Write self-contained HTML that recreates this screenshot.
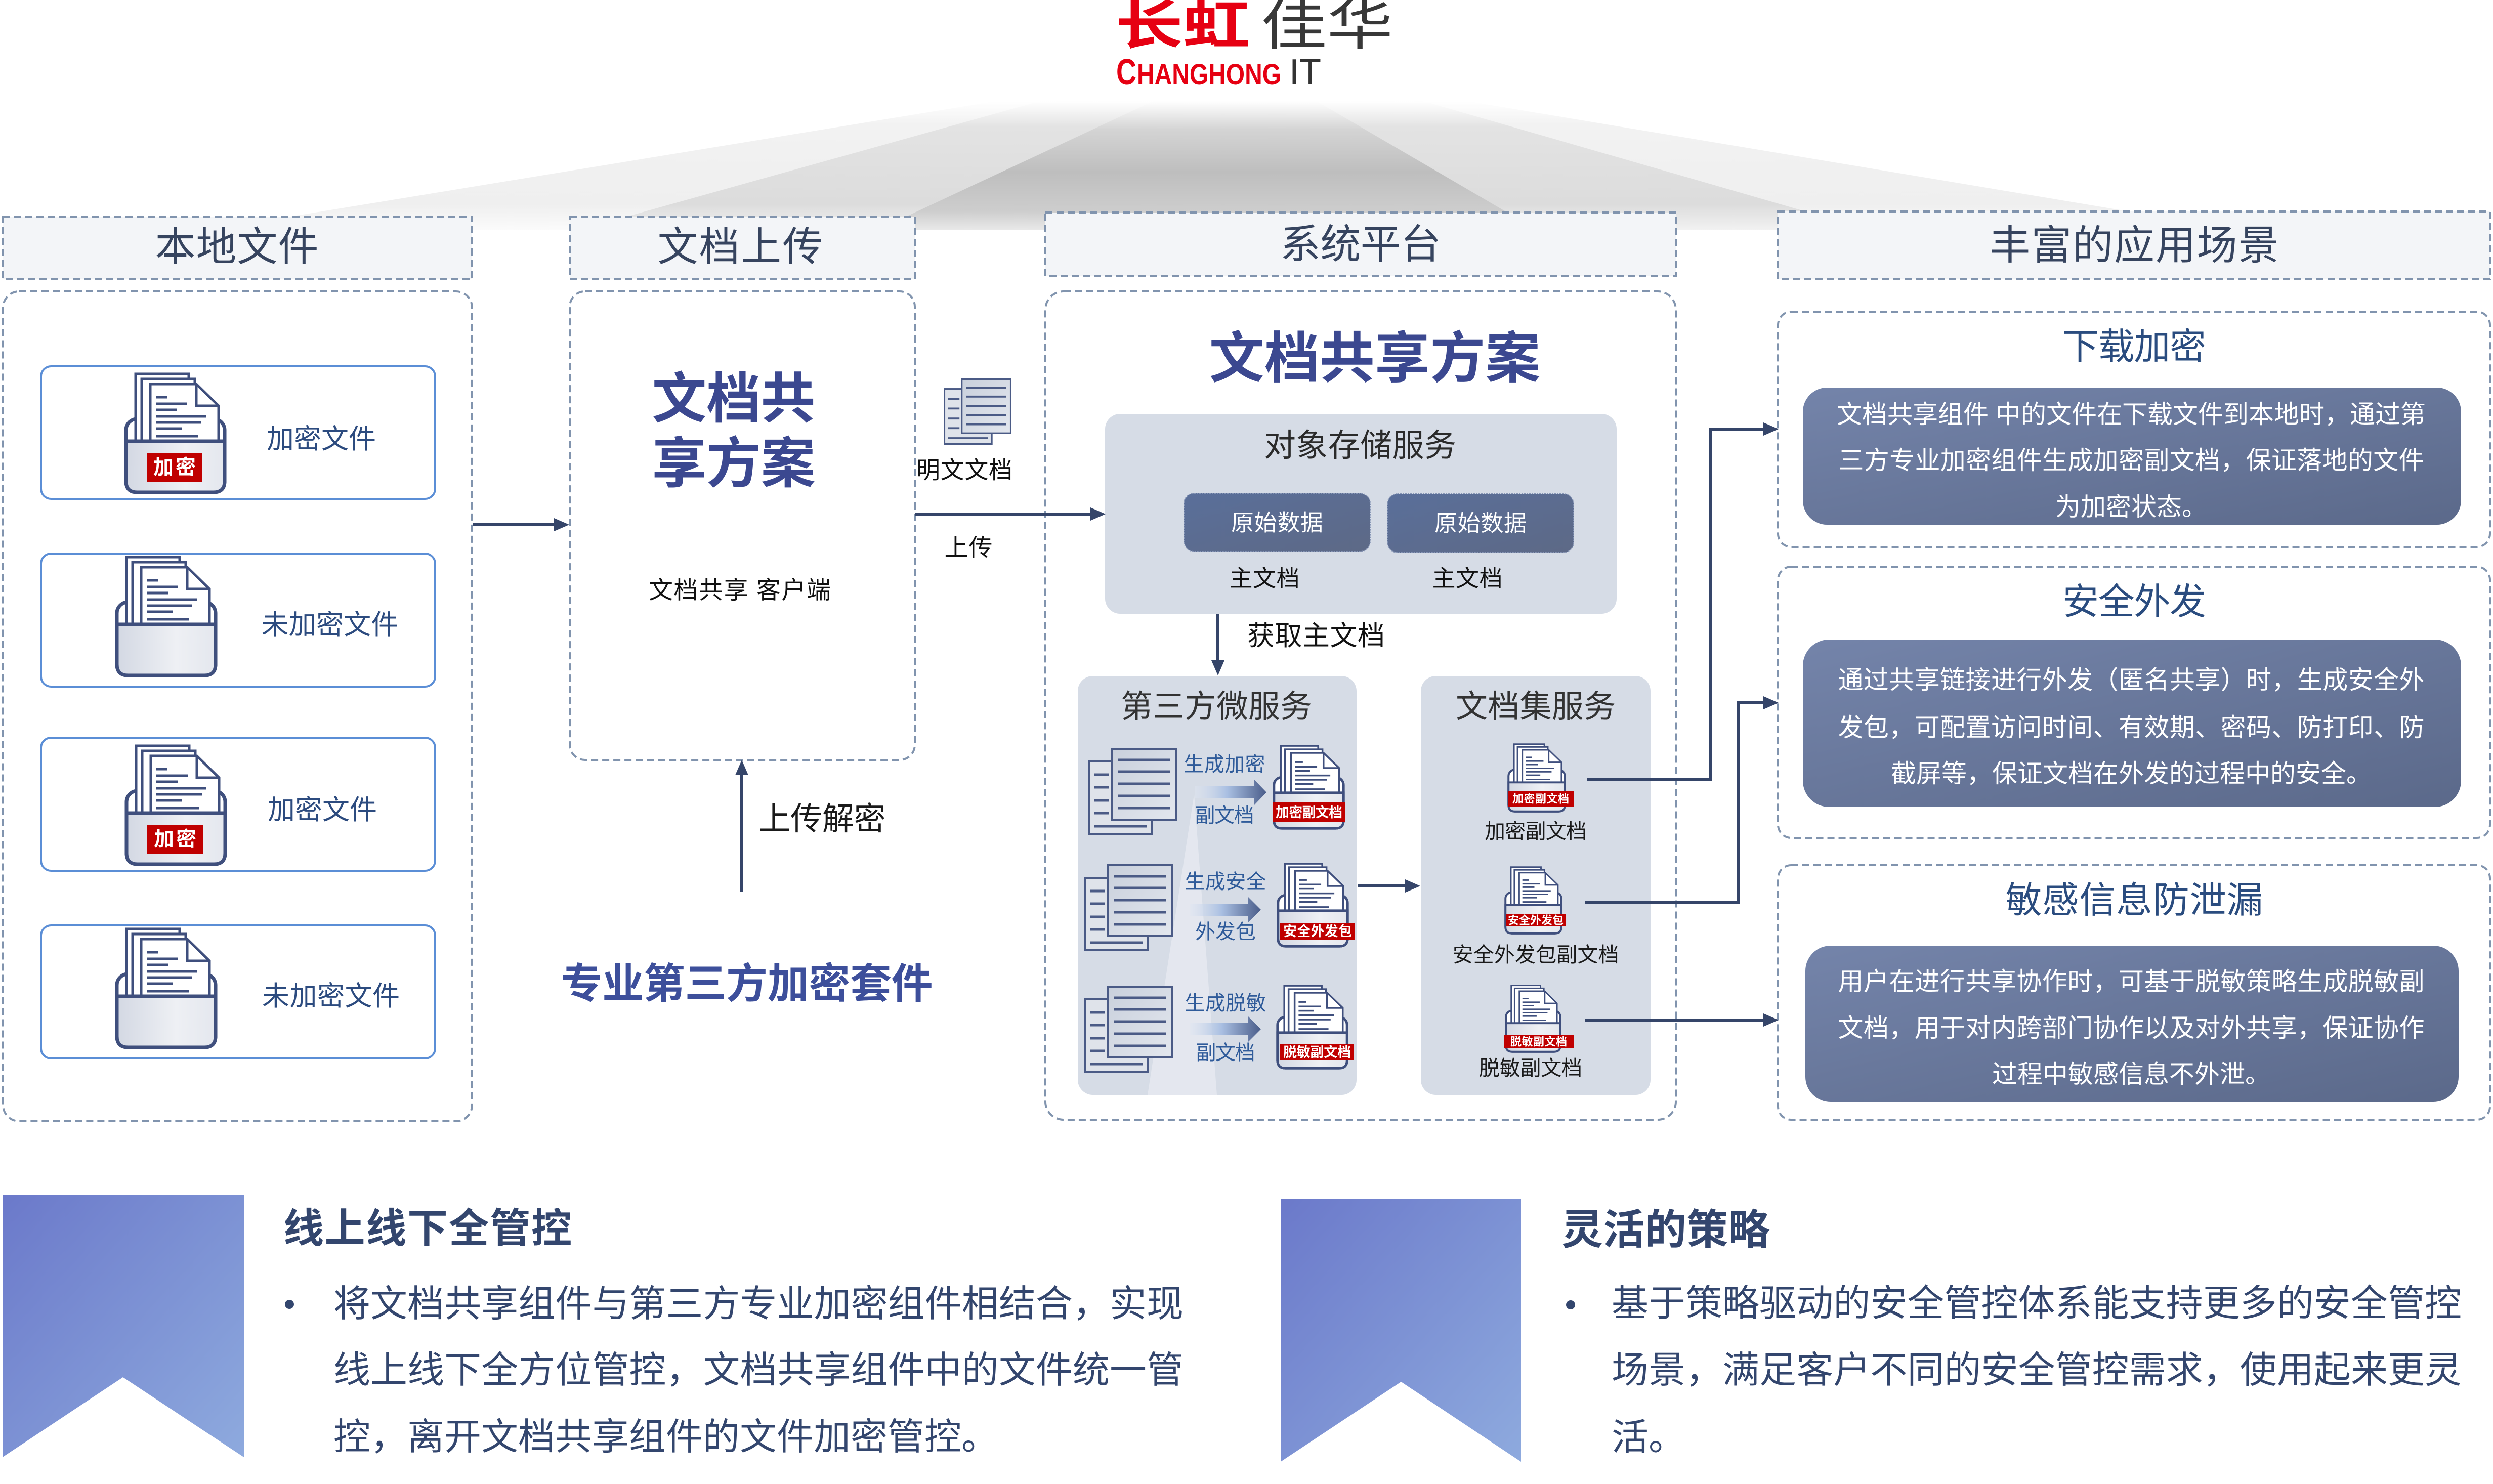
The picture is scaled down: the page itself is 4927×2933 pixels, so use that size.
<!DOCTYPE html>
<html><head><meta charset="utf-8">
<style>
html,body{margin:0;padding:0;background:#fff;}
svg{display:block;}
text{font-family:"Liberation Sans","Noto Sans CJK SC",sans-serif;}
.c{text-anchor:middle;dominant-baseline:central;}
.s{text-anchor:start;dominant-baseline:central;}
</style></head><body>
<svg width="4927" height="2933" viewBox="0 0 4927 2933" xmlns="http://www.w3.org/2000/svg">
<defs>
 <linearGradient id="b1" x1="0" y1="0" x2="0" y2="1"><stop offset="0" stop-color="#ffffff"/><stop offset="0.18" stop-color="#f2f2f2"/><stop offset="0.8" stop-color="#efefef"/><stop offset="1" stop-color="#fbfbfb"/></linearGradient>
 <linearGradient id="b2" x1="0" y1="0" x2="0" y2="1"><stop offset="0" stop-color="#ffffff"/><stop offset="0.2" stop-color="#e3e3e3"/><stop offset="0.8" stop-color="#dcdcdc"/><stop offset="1" stop-color="#f2f2f2"/></linearGradient>
 <linearGradient id="b3" x1="0" y1="0" x2="0" y2="1"><stop offset="0" stop-color="#ffffff"/><stop offset="0.22" stop-color="#d4d4d4"/><stop offset="0.55" stop-color="#bebebe"/><stop offset="0.85" stop-color="#cdcdcd"/><stop offset="1" stop-color="#e9e9e9"/></linearGradient>
 <linearGradient id="pk" x1="0" y1="0" x2="1" y2="0"><stop offset="0" stop-color="#d3d8e3"/><stop offset="0.6" stop-color="#eef0f4"/><stop offset="1" stop-color="#e4e7ee"/></linearGradient>
 <linearGradient id="sh" x1="0" y1="0" x2="1" y2="1"><stop offset="0" stop-color="#c9d0dc"/><stop offset="1" stop-color="#e3e7ee"/></linearGradient>
 <linearGradient id="ga" x1="0" y1="0" x2="1" y2="0"><stop offset="0" stop-color="#dfe6f2" stop-opacity="0.4"/><stop offset="0.45" stop-color="#a9bfe2"/><stop offset="1" stop-color="#4a5d8a"/></linearGradient>
 <linearGradient id="btn" x1="0" y1="0" x2="1" y2="1"><stop offset="0" stop-color="#5a6f9a"/><stop offset="1" stop-color="#5d6986"/></linearGradient>
 <linearGradient id="inr" x1="0" y1="0" x2="1" y2="1"><stop offset="0" stop-color="#7484aa"/><stop offset="1" stop-color="#5b698a"/></linearGradient>
 <linearGradient id="rib" x1="0" y1="0" x2="1" y2="1"><stop offset="0" stop-color="#6b79ca"/><stop offset="1" stop-color="#8eaade"/></linearGradient>
 <symbol id="fold" viewBox="0 0 203 241" preserveAspectRatio="none">
  <rect x="4" y="92" width="195" height="145" rx="22" fill="#ffffff" stroke="#3f4f7d" stroke-width="7"/>
  <rect x="23" y="3" width="105" height="140" fill="#ffffff" stroke="#3f4f7d" stroke-width="5"/>
  <rect x="35" y="13" width="105" height="130" fill="#ffffff" stroke="#3f4f7d" stroke-width="5"/>
  <path d="M52 23 H143 L187 66 V140 H52 Z" fill="#ffffff" stroke="#3f4f7d" stroke-width="5"/>
  <path d="M143 23 V66 H187" fill="none" stroke="#3f4f7d" stroke-width="5"/>
  <g stroke="#3f4f7d" stroke-width="5">
   <line x1="63" y1="49" x2="85" y2="49"/>
   <line x1="63" y1="62" x2="125" y2="62"/>
   <line x1="63" y1="74" x2="105" y2="74"/>
   <line x1="63" y1="87" x2="162" y2="87"/>
   <line x1="63" y1="99" x2="153" y2="99"/>
   <line x1="63" y1="111" x2="114" y2="111"/>
   <line x1="63" y1="126" x2="147" y2="126"/>
  </g>
  <path d="M4 136 H199 V215 Q199 237 177 237 H26 Q4 237 4 215 Z" fill="url(#pk)" stroke="#3f4f7d" stroke-width="7"/>
 </symbol>
 <symbol id="stack" viewBox="0 0 176 172" preserveAspectRatio="none">
  <rect x="2" y="27" width="123" height="143" fill="#dfe3ea" stroke="#4b5b86" stroke-width="4"/>
  <g stroke="#4b5b86" stroke-width="5">
   <line x1="11" y1="53" x2="41" y2="53"/>
   <line x1="11" y1="78" x2="41" y2="78"/>
   <line x1="11" y1="104" x2="41" y2="104"/>
   <line x1="11" y1="129" x2="41" y2="129"/>
   <line x1="11" y1="155" x2="115" y2="155"/>
  </g>
  <rect x="47" y="2" width="127" height="140" fill="url(#sh)" stroke="#4b5b86" stroke-width="4"/>
  <g stroke="#4b5b86" stroke-width="5">
   <line x1="59" y1="24" x2="162" y2="24"/>
   <line x1="59" y1="47" x2="162" y2="47"/>
   <line x1="59" y1="71" x2="162" y2="71"/>
   <line x1="59" y1="95" x2="162" y2="95"/>
   <line x1="59" y1="119" x2="162" y2="119"/>
  </g>
 </symbol>
</defs>

<!-- beam -->
<polygon points="1968,200 2900,200 4430,455 409,455" fill="url(#b1)"/>
<polygon points="2055,200 2813,200 3697,455 1142,455" fill="url(#b2)"/>
<polygon points="2279,200 2602,200 3039,455 1733,455" fill="url(#b3)"/>

<!-- logo -->
<text x="2205" y="50" class="s" font-size="108" font-weight="bold" fill="#e60012" textLength="266" lengthAdjust="spacingAndGlyphs">长虹</text>
<text x="2492" y="50" class="s" font-size="108" fill="#383838" textLength="261" lengthAdjust="spacingAndGlyphs">佳华</text>
<text x="2206" y="167" font-size="72" font-weight="bold" fill="#e60012" textLength="40" lengthAdjust="spacingAndGlyphs">C</text>
<text x="2247" y="167" font-size="58" font-weight="bold" fill="#e60012" textLength="285" lengthAdjust="spacingAndGlyphs">HANGHONG</text>
<text x="2548" y="167" font-size="72" fill="#333333" textLength="63" lengthAdjust="spacingAndGlyphs">IT</text>

<!-- headers -->
<g fill="#f3f5f8" stroke="#8194ae" stroke-width="4" stroke-dasharray="14 8">
 <rect x="6" y="428" width="927" height="124"/>
 <rect x="1126" y="428" width="682" height="124"/>
 <rect x="2066" y="420" width="1246" height="126"/>
 <rect x="3514" y="418" width="1407" height="134"/>
</g>
<g fill="#36445f" font-size="80">
 <text x="468" y="488" class="c" textLength="323">本地文件</text>
 <text x="1463" y="488" class="c" textLength="327">文档上传</text>
 <text x="2689" y="483" class="c" textLength="318">系统平台</text>
 <text x="4218" y="485" class="c" textLength="571">丰富的应用场景</text>
</g>

<!-- body boxes -->
<g fill="none" stroke="#8194ae" stroke-width="4" stroke-dasharray="14 8">
 <rect x="6" y="576" width="927" height="1640" rx="32"/>
 <rect x="1126" y="576" width="682" height="926" rx="30"/>
 <rect x="2066" y="576" width="1246" height="1637" rx="36"/>
 <rect x="3514" y="616" width="1407" height="465" rx="26"/>
 <rect x="3514" y="1120" width="1407" height="536" rx="26"/>
 <rect x="3514" y="1710" width="1407" height="503" rx="26"/>
</g>

<!-- file cards -->
<g fill="#ffffff" stroke="#5b8ed6" stroke-width="4">
 <rect x="81" y="724" width="779" height="262" rx="20"/>
 <rect x="81" y="1094" width="779" height="263" rx="20"/>
 <rect x="81" y="1458" width="779" height="263" rx="20"/>
 <rect x="81" y="1829" width="779" height="263" rx="20"/>
</g>
<use href="#fold" x="245" y="736" width="203" height="241"/>
<use href="#fold" x="227" y="1098" width="203" height="241"/>
<use href="#fold" x="246" y="1471" width="203" height="241"/>
<use href="#fold" x="227" y="1833" width="203" height="241"/>
<rect x="290" y="895" width="110" height="57" fill="#c00000"/>
<rect x="291" y="1631" width="110" height="56" fill="#c00000"/>
<text x="345" y="924" class="c" font-size="40" font-weight="bold" fill="#ffffff" textLength="84">加密</text>
<text x="346" y="1659" class="c" font-size="40" font-weight="bold" fill="#ffffff" textLength="84">加密</text>
<g fill="#2c4b7f" font-size="54">
 <text x="635" y="868" class="c" textLength="216">加密文件</text>
 <text x="652" y="1235" class="c" textLength="271">未加密文件</text>
 <text x="637" y="1601" class="c" textLength="216">加密文件</text>
 <text x="654" y="1969" class="c" textLength="272">未加密文件</text>
</g>

<!-- upload panel -->
<text x="1450" y="788" class="c" font-size="108" font-weight="bold" fill="#3b4890" textLength="323">文档共</text>
<text x="1450" y="916" class="c" font-size="108" font-weight="bold" fill="#3b4890" textLength="323">享方案</text>
<text x="1462" y="1167" class="c" font-size="48" fill="#111111" textLength="360">文档共享 客户端</text>
<text x="1625" y="1619" class="c" font-size="63" fill="#1a1a1a" textLength="251">上传解密</text>
<text x="1476" y="1945" class="c" font-size="82" font-weight="bold" fill="#3d4f9b" textLength="735">专业第三方加密套件</text>
<use href="#stack" x="1865" y="748" width="134" height="131"/>
<text x="1906" y="929" class="c" font-size="47" fill="#111111" textLength="190">明文文档</text>
<text x="1914" y="1082" class="c" font-size="47" fill="#111111" textLength="95">上传</text>

<!-- system platform -->
<text x="2717" y="709" class="c" font-size="109" font-weight="bold" fill="#3b4890" textLength="655">文档共享方案</text>
<rect x="2184" y="818" width="1011" height="395" rx="30" fill="#d6dce6"/>
<text x="2688" y="881" class="c" font-size="63" fill="#2b2b2b" textLength="380">对象存储服务</text>
<rect x="2340" y="975" width="368" height="115" rx="20" fill="url(#btn)" stroke="#8796b6" stroke-width="2" stroke-dasharray="3 2"/>
<rect x="2742" y="976" width="368" height="116" rx="20" fill="url(#btn)" stroke="#8796b6" stroke-width="2" stroke-dasharray="3 2"/>
<text x="2524" y="1033" class="c" font-size="45" fill="#ffffff" textLength="182">原始数据</text>
<text x="2926" y="1034" class="c" font-size="45" fill="#ffffff" textLength="182">原始数据</text>
<text x="2499" y="1143" class="c" font-size="46" fill="#111111" textLength="139">主文档</text>
<text x="2900" y="1143" class="c" font-size="46" fill="#111111" textLength="139">主文档</text>
<text x="2601" y="1257" class="c" font-size="54" fill="#111111" textLength="272">获取主文档</text>

<rect x="2130" y="1336" width="551" height="828" rx="30" fill="#d6dce6"/>
<rect x="2808" y="1336" width="454" height="828" rx="30" fill="#d6dce6"/>
<polygon points="2360,1570 2405,2164 2268,2164" fill="#e8ebf1" opacity="0.75"/>
<text x="2404" y="1397" class="c" font-size="63" fill="#333333" textLength="378">第三方微服务</text>
<text x="3035" y="1397" class="c" font-size="63" fill="#333333" textLength="316">文档集服务</text>

<!-- microservice rows -->
<use href="#stack" x="2151" y="1478" width="176" height="172"/>
<use href="#stack" x="2143" y="1708" width="176" height="172"/>
<use href="#stack" x="2143" y="1948" width="176" height="172"/>
<polygon points="2362,1553 2478,1553 2478,1540 2503,1566 2478,1592 2478,1578 2362,1578" fill="url(#ga)"/>
<polygon points="2351,1787 2467,1787 2467,1773 2492,1798 2467,1823 2467,1811 2351,1811" fill="url(#ga)"/>
<polygon points="2351,2022 2467,2022 2467,2009 2492,2034 2467,2059 2467,2046 2351,2046" fill="url(#ga)"/>
<g fill="#2f5b9a" font-size="40">
 <text x="2420" y="1511" class="c" textLength="161">生成加密</text>
 <text x="2420" y="1612" class="c" textLength="117">副文档</text>
 <text x="2422" y="1743" class="c" textLength="161">生成安全</text>
 <text x="2422" y="1842" class="c" textLength="120">外发包</text>
 <text x="2422" y="1983" class="c" textLength="161">生成脱敏</text>
 <text x="2422" y="2081" class="c" textLength="117">副文档</text>
</g>
<use href="#fold" x="2515" y="1472" width="143" height="168"/>
<use href="#fold" x="2523" y="1705" width="143" height="168"/>
<use href="#fold" x="2522" y="1946" width="143" height="168"/>
<rect x="2516" y="1586" width="142" height="39" fill="#c00000"/>
<rect x="2530" y="1825" width="148" height="32" fill="#c00000"/>
<rect x="2530" y="2064" width="146" height="31" fill="#c00000"/>
<g fill="#ffffff" font-size="27" font-weight="bold">
 <text x="2587" y="1606" class="c" textLength="132">加密副文档</text>
 <text x="2604" y="1841" class="c" textLength="136">安全外发包</text>
 <text x="2603" y="2080" class="c" textLength="134">脱敏副文档</text>
</g>

<!-- doc set icons -->
<use href="#fold" x="2979" y="1469" width="116" height="137"/>
<use href="#fold" x="2973" y="1712" width="115" height="135"/>
<use href="#fold" x="2974" y="1946" width="112" height="135"/>
<rect x="2980" y="1564" width="130" height="30" fill="#c00000"/>
<rect x="2977" y="1807" width="117" height="24" fill="#c00000"/>
<rect x="2972" y="2046" width="138" height="26" fill="#c00000"/>
<g fill="#ffffff" font-size="22" font-weight="bold">
 <text x="3045" y="1579" class="c" textLength="112">加密副文档</text>
 <text x="3035" y="1819" class="c" textLength="110">安全外发包</text>
 <text x="3041" y="2059" class="c" textLength="112">脱敏副文档</text>
</g>
<g fill="#1a1a1a" font-size="41">
 <text x="3035" y="1643" class="c" textLength="202">加密副文档</text>
 <text x="3035" y="1887" class="c" textLength="329">安全外发包副文档</text>
 <text x="3025" y="2111" class="c" textLength="204">脱敏副文档</text>
</g>

<!-- connectors -->
<g stroke="#354569" stroke-width="6" fill="none">
 <line x1="935" y1="1037" x2="1098" y2="1037"/>
 <line x1="1808" y1="1016" x2="2158" y2="1016"/>
 <line x1="1466" y1="1763" x2="1466" y2="1528"/>
 <line x1="2407" y1="1213" x2="2407" y2="1308"/>
 <line x1="2683" y1="1751" x2="2780" y2="1751"/>
 <polyline points="3137,1541 3381,1541 3381,848 3488,848"/>
 <polyline points="3132,1783 3436,1783 3436,1389 3488,1389"/>
 <line x1="3132" y1="2016" x2="3488" y2="2016"/>
</g>
<g fill="#354569">
 <polygon points="1125,1037 1095,1024 1095,1050"/>
 <polygon points="2185,1016 2155,1003 2155,1029"/>
 <polygon points="1466,1502 1453,1532 1479,1532"/>
 <polygon points="2407,1335 2394,1305 2420,1305"/>
 <polygon points="2807,1751 2777,1738 2777,1764"/>
 <polygon points="3515,848 3485,835 3485,861"/>
 <polygon points="3515,1389 3485,1376 3485,1402"/>
 <polygon points="3515,2016 3485,2003 3485,2029"/>
</g>

<!-- right panels -->
<g fill="#2a4c7f" font-size="72">
 <text x="4218" y="686" class="c" textLength="284">下载加密</text>
 <text x="4218" y="1190" class="c" textLength="284">安全外发</text>
 <text x="4218" y="1780" class="c" textLength="509">敏感信息防泄漏</text>
</g>
<rect x="3563" y="766" width="1301" height="271" rx="48" fill="url(#inr)"/>
<rect x="3563" y="1264" width="1301" height="331" rx="52" fill="url(#inr)"/>
<rect x="3568" y="1869" width="1291" height="309" rx="50" fill="url(#inr)"/>
<g fill="#ffffff" font-size="50">
 <text x="4212" y="819" class="c" textLength="1164">文档共享组件 中的文件在下载文件到本地时，通过第</text>
 <text x="4212" y="910" class="c" textLength="1157">三方专业加密组件生成加密副文档，保证落地的文件</text>
 <text x="4212" y="1002" class="c">为加密状态。</text>
 <text x="4212" y="1344" class="c" textLength="1159">通过共享链接进行外发（匿名共享）时，生成安全外</text>
 <text x="4212" y="1438" class="c" textLength="1159">发包，可配置访问时间、有效期、密码、防打印、防</text>
 <text x="4212" y="1529" class="c">截屏等，保证文档在外发的过程中的安全。</text>
 <text x="4212" y="1940" class="c" textLength="1159">用户在进行共享协作时，可基于脱敏策略生成脱敏副</text>
 <text x="4212" y="2032" class="c" textLength="1159">文档，用于对内跨部门协作以及对外共享，保证协作</text>
 <text x="4212" y="2123" class="c">过程中敏感信息不外泄。</text>
</g>

<!-- bottom -->
<polygon points="5,2361 482,2361 482,2880 243,2722 5,2880" fill="url(#rib)"/>
<polygon points="2531,2369 3006,2369 3006,2889 2769,2731 2531,2889" fill="url(#rib)"/>
<text x="560" y="2428" class="s" font-size="80" font-weight="bold" fill="#33466e" textLength="570">线上线下全管控</text>
<text x="3086" y="2431" class="s" font-size="82" font-weight="bold" fill="#33466e" textLength="412">灵活的策略</text>
<circle cx="572" cy="2578" r="9" fill="#33466e"/>
<circle cx="3104" cy="2579" r="9" fill="#33466e"/>
<g fill="#33466e" font-size="73">
 <text x="659" y="2577" class="s" textLength="1680">将文档共享组件与第三方专业加密组件相结合，实现</text>
 <text x="659" y="2708" class="s" textLength="1680">线上线下全方位管控，文档共享组件中的文件统一管</text>
 <text x="659" y="2840" class="s">控，离开文档共享组件的文件加密管控。</text>
 <text x="3185" y="2576" class="s" textLength="1680">基于策略驱动的安全管控体系能支持更多的安全管控</text>
 <text x="3185" y="2708" class="s" textLength="1680">场景，满足客户不同的安全管控需求，使用起来更灵</text>
 <text x="3185" y="2841" class="s">活。</text>
</g>
</svg>
</body></html>
